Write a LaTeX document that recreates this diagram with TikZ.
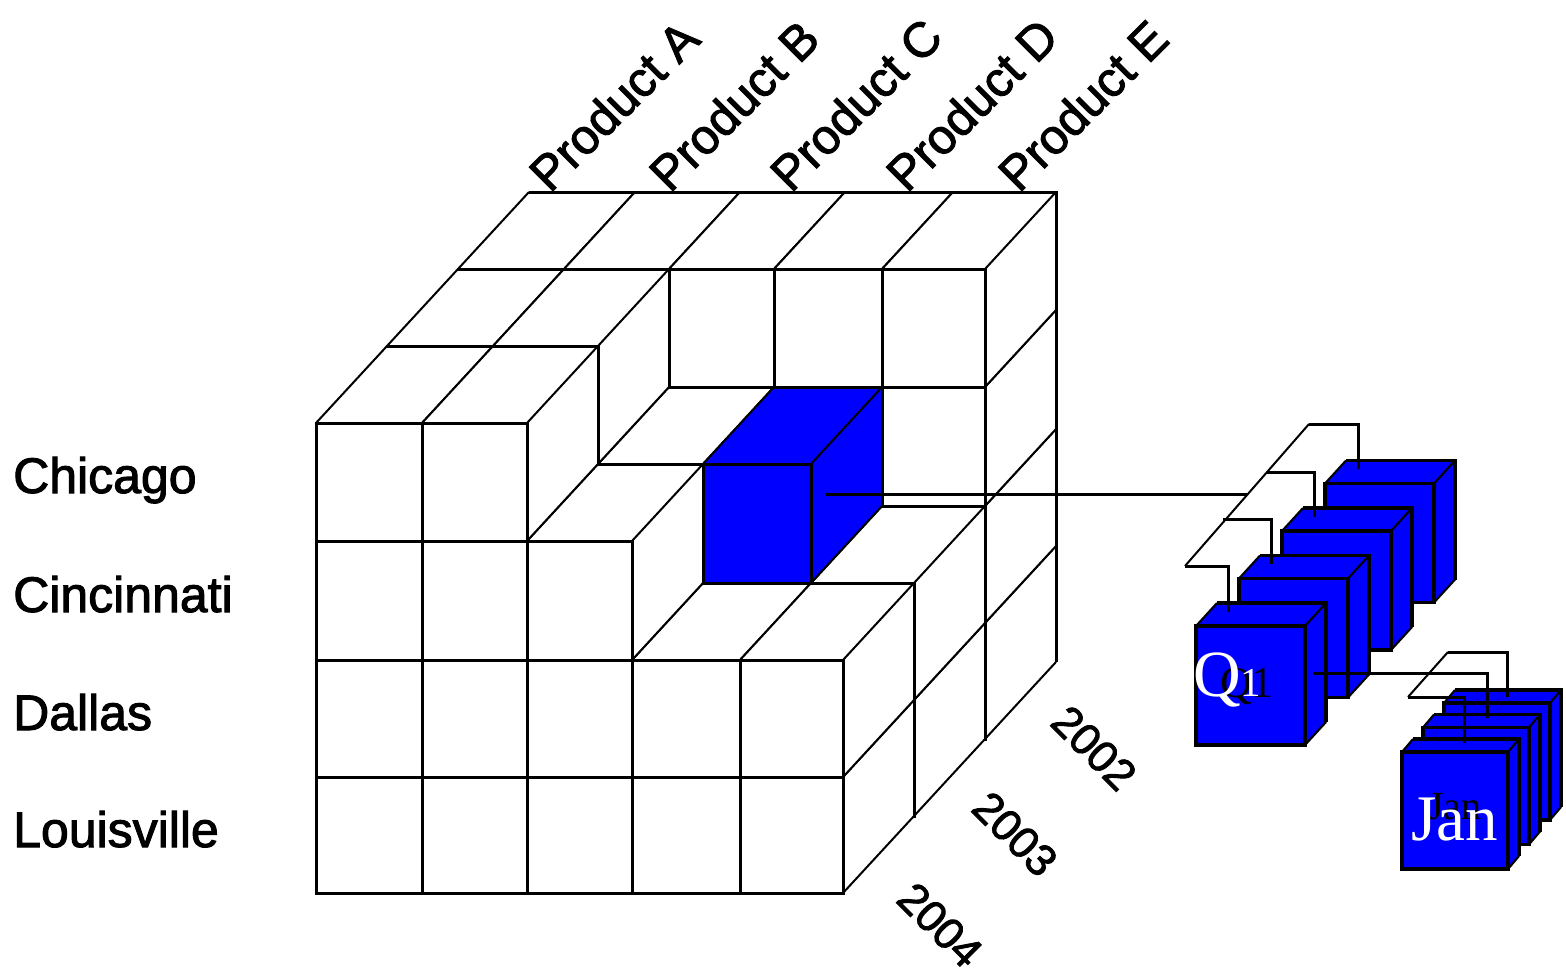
\documentclass[tikz,border=0pt]{standalone}
\usepackage{fontspec}
\setmainfont{Liberation Serif}
\setsansfont{Liberation Sans}
\definecolor{cubeblue}{RGB}{0,0,255}
\def\cubeX{{316,422,527,632,740,843}}
\def\cubeY{{423,541,660,777,893}}
\tikzset{
  edge/.style={line width=3pt},
  slant/.style={line width=2pt},
  qedge/.style={line width=3.2pt},
  qslant/.style={line width=2.1pt},
  link/.style={line width=3pt},
  slantlink/.style={line width=2pt},
  rowlabel/.style={anchor=base west, inner sep=0pt, font=\sffamily\fontsize{50}{50}\selectfont\addfontfeature{FakeBold=2}},
  prodlabel/.style={anchor=base west, inner sep=0pt, rotate=45, font=\sffamily\fontsize{49}{49}\selectfont\addfontfeature{FakeBold=2}},
  yearlabel/.style={anchor=center, inner sep=0pt, rotate=-45, font=\sffamily\fontsize{44}{44}\selectfont\addfontfeature{FakeBold=2}},
}
% cell cube: i j k fill
\newcommand{\cellcube}[4]{%
  \pgfmathsetmacro{\xa}{\cubeX[#1]+#3*71}%
  \pgfmathsetmacro{\xb}{\cubeX[#1+1]+#3*71}%
  \pgfmathsetmacro{\ya}{\cubeY[#2]-#3*77}%
  \pgfmathsetmacro{\yb}{\cubeY[#2+1]-#3*77}%
  \pgfmathsetmacro{\xc}{\xa+71}%
  \pgfmathsetmacro{\xd}{\xb+71}%
  \pgfmathsetmacro{\yc}{\ya-77}%
  \pgfmathsetmacro{\yd}{\yb-77}%
  \fill[#4] (\xa,\yb) -- (\xa,\ya) -- (\xc,\yc) -- (\xd,\yc) -- (\xd,\yd) -- (\xb,\yb) -- cycle;
  \draw[edge] (\xa,\ya) rectangle (\xb,\yb);
  \draw[edge] (\xc,\yc) -- (\xd,\yc) -- (\xd,\yd);
  \draw[slant] (\xa,\ya) -- (\xc,\yc) (\xb,\ya) -- (\xd,\yc) (\xb,\yb) -- (\xd,\yd);
}
% box cube: x y w h dx dy fill
\newcommand{\boxcube}[7]{%
  \pgfmathsetmacro{\bxb}{#1+#3}%
  \pgfmathsetmacro{\byb}{#2+#4}%
  \pgfmathsetmacro{\bxc}{#1+#5}%
  \pgfmathsetmacro{\bxd}{#1+#3+#5}%
  \pgfmathsetmacro{\byc}{#2+#6}%
  \pgfmathsetmacro{\byd}{#2+#4+#6}%
  \fill[#7] (#1,\byb) -- (#1,#2) -- (\bxc,\byc) -- (\bxd,\byc) -- (\bxd,\byd) -- (\bxb,\byb) -- cycle;
  \draw[qedge] (#1,#2) rectangle (\bxb,\byb);
  \draw[qedge] (\bxc,\byc) -- (\bxd,\byc) -- (\bxd,\byd);
  \draw[qslant] (#1,#2) -- (\bxc,\byc) (\bxb,#2) -- (\bxd,\byc) (\bxb,\byb) -- (\bxd,\byd);
}
\begin{document}
\begin{tikzpicture}[x=1pt,y=-1pt]
\useasboundingbox (0,0) rectangle (1566,974);
\fill[white] (0,0) rectangle (1566,974);

% ---- main cube: back layer (2002)
\foreach \j in {3,2,1,0} {\foreach \i in {0,...,4} {\cellcube{\i}{\j}{2}{white}}}
% middle layer (2003)
\foreach \j in {3,2} {\foreach \i in {0,...,4} {\cellcube{\i}{\j}{1}{white}}}
\foreach \i in {0,1,2} {\cellcube{\i}{1}{1}{white}}
\cellcube{3}{1}{1}{cubeblue}
\foreach \i in {0,1} {\cellcube{\i}{0}{1}{white}}
% front layer (2004)
\foreach \j in {3,2} {\foreach \i in {0,...,4} {\cellcube{\i}{\j}{0}{white}}}
\foreach \i in {0,1,2} {\cellcube{\i}{1}{0}{white}}
\foreach \i in {0,1} {\cellcube{\i}{0}{0}{white}}

% ---- row labels
\node[rowlabel] (chicago) at (13,493) {Chicago};
\node[rowlabel] (cincinnati) at (13,612) {Cincinnati};
\node[rowlabel] (dallas) at (13,730) {Dallas};
\node[rowlabel] (louisville) at (13,847) {Louisville};

% ---- product labels
\node[prodlabel] (prodA) at (550,194) {Product A};
\node[prodlabel] (prodB) at (670,194) {Product B};
\node[prodlabel] (prodC) at (791,194) {Product C};
\node[prodlabel] (prodD) at (907,194) {Product D};
\node[prodlabel] (prodE) at (1019,194) {Product E};

% ---- year labels
\node[yearlabel] (y2002) at (1094,748) {2002};
\node[yearlabel] (y2003) at (1015,834) {2003};
\node[yearlabel] (y2004) at (940,925) {2004};

% ---- connector from highlighted cell
\coordinate (bluePort) at (826,494);
\coordinate (qJoin) at (1247,494);
\draw[link] (bluePort) -- (qJoin);

% ---- quarter cubes
\foreach \n in {3,2,1,0} {%
  \pgfmathsetmacro{\qx}{1196+43*\n}%
  \pgfmathsetmacro{\qy}{626-47.5*\n}%
  \boxcube{\qx}{\qy}{109}{119}{21}{-23}{cubeblue}}
\node[anchor=base east, inner sep=0pt, font=\fontsize{44}{44}\selectfont] (q1ghost) at (1274,697) {Q1};
\node[anchor=base west, inner sep=0pt, text=white, font=\fontsize{66}{66}\selectfont] (q1) at (1193,696) {Q{\fontsize{41}{41}\selectfont 1}};

% quarter bracket
\coordinate (qBrLo) at (1185,566);
\coordinate (qBrHi) at (1309,424);
\coordinate (qBr2) at (1223,519);
\coordinate (qBr3) at (1267,472);
\coordinate (q1Top) at (1228,612);
\coordinate (q2Top) at (1271,564);
\coordinate (q3Top) at (1314,517);
\coordinate (q4Top) at (1358,469);
\draw[slantlink] (qBrLo) -- (qBrHi);
\draw[link] (qBrLo) -| (q1Top);
\draw[link] (qBr2) -| (q2Top);
\draw[link] (qBr3) -| (q3Top);
\draw[link] (qBrHi) -| (q4Top);

% ---- month cubes
\foreach \n in {2,1,0} {%
  \pgfmathsetmacro{\mx}{1402+21*\n}%
  \pgfmathsetmacro{\my}{752-24.5*\n}%
  \boxcube{\mx}{\my}{106}{117}{11}{-13}{cubeblue}}
\node[anchor=base west, inner sep=0pt, font=\fontsize{40}{40}\selectfont] (janghost) at (1428,819) {Jan};
\node[anchor=base west, inner sep=0pt, text=white, font=\fontsize{65}{65}\selectfont] (jan) at (1411,840) {Jan};

% month bracket
\coordinate (q1Port) at (1313,673);
\coordinate (mBrLo) at (1408,697);
\coordinate (mBrHi) at (1448,652);
\coordinate (janTop) at (1464,743);
\coordinate (febTop) at (1487,718);
\coordinate (marTop) at (1507,697);
\draw[slantlink] (mBrLo) -- (mBrHi);
\draw[link] (q1Port) -| (febTop);
\draw[link] (mBrLo) -| (janTop);
\draw[link] (mBrHi) -| (marTop);
\end{tikzpicture}
\end{document}
